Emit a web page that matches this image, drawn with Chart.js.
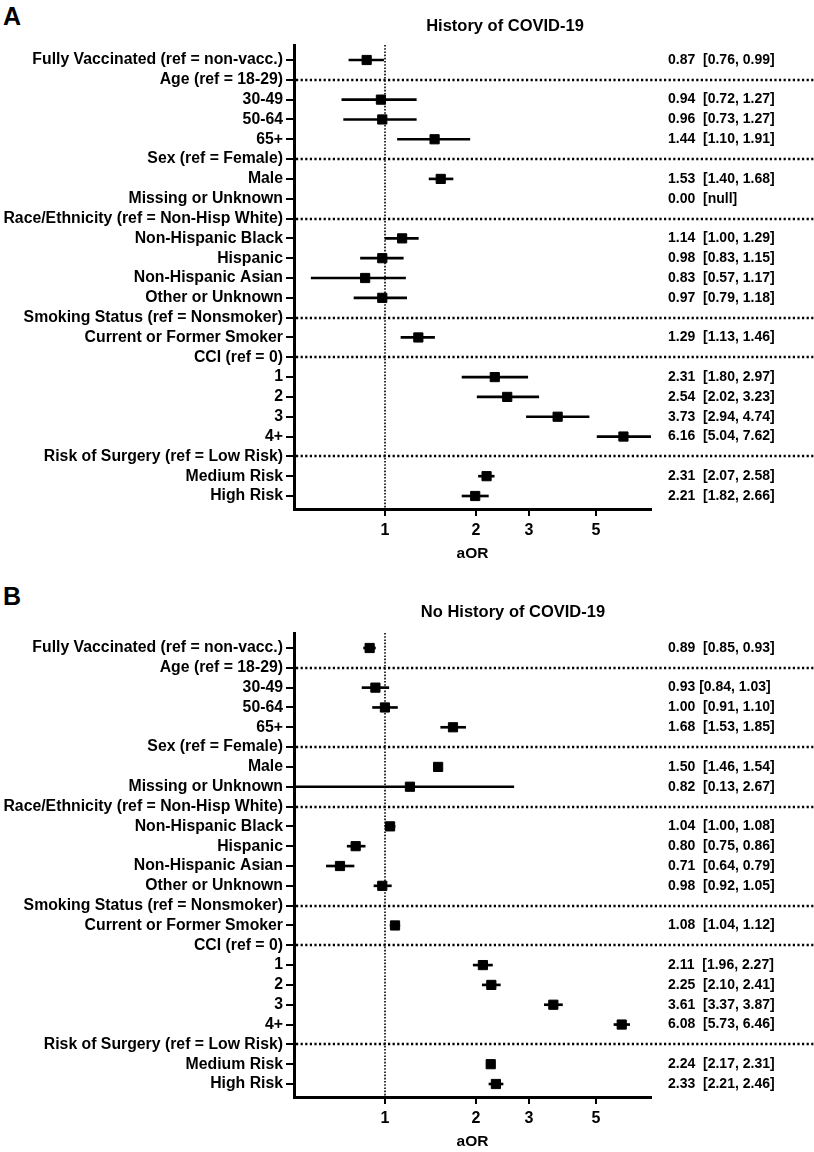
<!DOCTYPE html>
<html>
<head>
<meta charset="utf-8">
<script src="https://cdn.jsdelivr.net/npm/chart.js@4.4.1/dist/chart.umd.min.js"></script>
<style>
  html, body { margin: 0; padding: 0; background: #fff; }
  body { width: 814px; height: 1152px; position: relative; overflow: hidden; }
  .panel { position: absolute; left: 0; width: 814px; }
  .letter { position: absolute; left: 3px; font: bold 25px 'Liberation Sans', Arial, sans-serif; line-height: 1; }
</style>
</head>
<body>
<div class="letter" style="top:4px">A</div>
<div class="letter" style="top:584px">B</div>
<div class="panel" style="top:0;height:575px"><canvas id="chartA"></canvas></div>
<div class="panel" style="top:575px;height:588px"><canvas id="chartB"></canvas></div>
<script>
const rowLabels = [
  'Fully Vaccinated (ref = non-vacc.)', 'Age (ref = 18-29)', '30-49', '50-64', '65+',
  'Sex (ref = Female)', 'Male', 'Missing or Unknown',
  'Race/Ethnicity (ref = Non-Hisp White)', 'Non-Hispanic Black', 'Hispanic', 'Non-Hispanic Asian', 'Other or Unknown',
  'Smoking Status (ref = Nonsmoker)', 'Current or Former Smoker',
  'CCI (ref = 0)', '1', '2', '3', '4+',
  'Risk of Surgery (ref = Low Risk)', 'Medium Risk', 'High Risk'
];
const headerRows = [1, 5, 8, 13, 15, 20];
const xTicks = [1, 2, 3, 5];

// panel A - history of covid (plotted values)
const estA = [0.87, null, 0.97, 0.98, 1.46, null, 1.53, null, null, 1.14, 0.98, 0.86, 0.98, null, 1.29, null, 2.31, 2.54, 3.73, 6.16, null, 2.17, 1.99];
const lowA = [0.76, null, 0.72, 0.73, 1.10, null, 1.40, null, null, 1.00, 0.83, 0.57, 0.79, null, 1.13, null, 1.80, 2.02, 2.94, 5.04, null, 2.04, 1.80];
const highA = [0.99, null, 1.27, 1.27, 1.91, null, 1.68, null, null, 1.29, 1.15, 1.17, 1.18, null, 1.46, null, 2.97, 3.23, 4.74, 7.62, null, 2.30, 2.20];
const textA = ['0.87  [0.76, 0.99]', '', '0.94  [0.72, 1.27]', '0.96  [0.73, 1.27]', '1.44  [1.10, 1.91]', '',
  '1.53  [1.40, 1.68]', '0.00  [null]', '', '1.14  [1.00, 1.29]', '0.98  [0.83, 1.15]', '0.83  [0.57, 1.17]',
  '0.97  [0.79, 1.18]', '', '1.29  [1.13, 1.46]', '', '2.31  [1.80, 2.97]', '2.54  [2.02, 3.23]',
  '3.73  [2.94, 4.74]', '6.16  [5.04, 7.62]', '', '2.31  [2.07, 2.58]', '2.21  [1.82, 2.66]'];

// panel B - no history of covid
const estB = [0.89, null, 0.93, 1.00, 1.68, null, 1.50, 1.21, null, 1.04, 0.80, 0.71, 0.98, null, 1.08, null, 2.11, 2.25, 3.61, 6.08, null, 2.24, 2.33];
const lowB = [0.85, null, 0.84, 0.91, 1.53, null, 1.46, 0.13, null, 1.00, 0.75, 0.64, 0.92, null, 1.04, null, 1.96, 2.10, 3.37, 5.73, null, 2.17, 2.21];
const highB = [0.93, null, 1.03, 1.10, 1.85, null, 1.54, 2.67, null, 1.08, 0.86, 0.79, 1.05, null, 1.12, null, 2.27, 2.41, 3.87, 6.46, null, 2.31, 2.46];
const textB = ['0.89  [0.85, 0.93]', '', '0.93 [0.84, 1.03]', '1.00  [0.91, 1.10]', '1.68  [1.53, 1.85]', '',
  '1.50  [1.46, 1.54]', '0.82  [0.13, 2.67]', '', '1.04  [1.00, 1.08]', '0.80  [0.75, 0.86]', '0.71  [0.64, 0.79]',
  '0.98  [0.92, 1.05]', '', '1.08  [1.04, 1.12]', '', '2.11  [1.96, 2.27]', '2.25  [2.10, 2.41]',
  '3.61  [3.37, 3.87]', '6.08  [5.73, 6.46]', '', '2.24  [2.17, 2.31]', '2.33  [2.21, 2.46]'];

const FONT = "'Liberation Sans', Arial, sans-serif";

// dotted guides, the right hand table and the panel title
const forestDecor = {
  id: 'forestDecor',
  beforeDatasetsDraw(chart, args, opts) {
    const { ctx, chartArea, scales } = chart;
    ctx.save();
    ctx.strokeStyle = '#000';
    // reference line at aOR = 1
    const x1 = Math.round(scales.x.getPixelForValue(1));
    ctx.lineWidth = 1.6;
    ctx.setLineDash([1.6, 1.6]);
    ctx.beginPath();
    ctx.moveTo(x1, chartArea.top);
    ctx.lineTo(x1, chartArea.bottom);
    ctx.stroke();
    // group separators
    ctx.lineWidth = 2.4;
    ctx.setLineDash([2.2, 2.4]);
    headerRows.forEach(i => {
      const y = Math.round(scales.y.getPixelForValue(i));
      ctx.beginPath();
      ctx.moveTo(chartArea.left + 2, y);
      ctx.lineTo(chart.width, y);
      ctx.stroke();
    });
    ctx.restore();
  },
  afterDraw(chart, args, opts) {
    const { ctx, scales } = chart;
    ctx.save();
    ctx.fillStyle = '#000';
    ctx.textBaseline = 'middle';
    ctx.textAlign = 'left';
    ctx.font = 'bold 14px ' + FONT;
    opts.text.forEach((t, i) => {
      if (t) ctx.fillText(t, 668, scales.y.getPixelForValue(i));
    });
    ctx.textAlign = 'center';
    ctx.font = 'bold 16.5px ' + FONT;
    ctx.fillText(opts.title, opts.titleX, opts.titleY);
    ctx.restore();
  }
};

function makeForest(id, est, low, high, text, title, titleX, titleY, padTop) {
  const ciData = [];
  const ptData = [];
  est.forEach((v, i) => {
    if (v == null) return;
    ciData.push({ x: [low[i], high[i]], y: i });
    ptData.push({ x: v, y: i });
  });

  return new Chart(document.getElementById(id), {
    type: 'bar',
    data: {
      datasets: [
        {
          type: 'scatter',
          data: ptData,
          pointStyle: 'rect',
          pointRadius: 6.5,
          pointHoverRadius: 6.5,
          backgroundColor: '#000',
          borderColor: '#000',
          borderWidth: 1,
          order: 0
        },
        {
          type: 'bar',
          indexAxis: 'y',
          data: ciData,
          backgroundColor: '#000',
          borderWidth: 0,
          barThickness: 2,
          order: 1
        }
      ]
    },
    options: {
      responsive: true,
      maintainAspectRatio: false,
      animation: false,
      indexAxis: 'y',
      layout: { padding: { top: padTop, right: 163, left: 0, bottom: 0 } },
      plugins: {
        legend: { display: false },
        tooltip: { enabled: false },
        forestDecor: { text: text, title: title, titleX: titleX, titleY: titleY }
      },
      scales: {
        x: {
          type: 'logarithmic',
          min: 0.5,
          max: 7.6,
          offset: false,
          afterBuildTicks: (scale) => { scale.ticks = xTicks.map(v => ({ value: v })); },
          afterFit: (scale) => { scale.height = 66; },
          ticks: {
            color: '#000',
            font: { family: FONT, size: 16, weight: 'bold' },
            padding: 5,
            autoSkip: false,
            maxRotation: 0,
            callback: (v) => String(v)
          },
          grid: { drawOnChartArea: false, drawTicks: true, tickLength: 7, color: '#000', lineWidth: 2 },
          border: { display: true, color: '#000', width: 3 },
          title: {
            display: true,
            text: 'aOR',
            color: '#000',
            font: { family: FONT, size: 15.5, weight: 'bold' },
            padding: { top: 0, bottom: 12 }
          }
        },
        y: {
          type: 'linear',
          reverse: true,
          min: -0.757,
          max: 22.656,
          offset: false,
          afterBuildTicks: (scale) => { scale.ticks = rowLabels.map((_, i) => ({ value: i })); },
          afterFit: (scale) => { scale.width = 294; },
          ticks: {
            color: '#000',
            font: { family: FONT, size: 15.8, weight: 'bold' },
            padding: 3,
            autoSkip: false,
            callback: (v) => rowLabels[v]
          },
          grid: { offset: false, drawOnChartArea: false, drawTicks: true, tickLength: 8, color: '#000', lineWidth: 2 },
          border: { display: true, color: '#000', width: 3 }
        }
      }
    },
    plugins: [forestDecor]
  });
}

makeForest('chartA', estA, lowA, highA, textA, 'History of COVID-19', 505, 26, 45);
makeForest('chartB', estB, lowB, highB, textB, 'No History of COVID-19', 513, 37, 58);
</script>
</body>
</html>
